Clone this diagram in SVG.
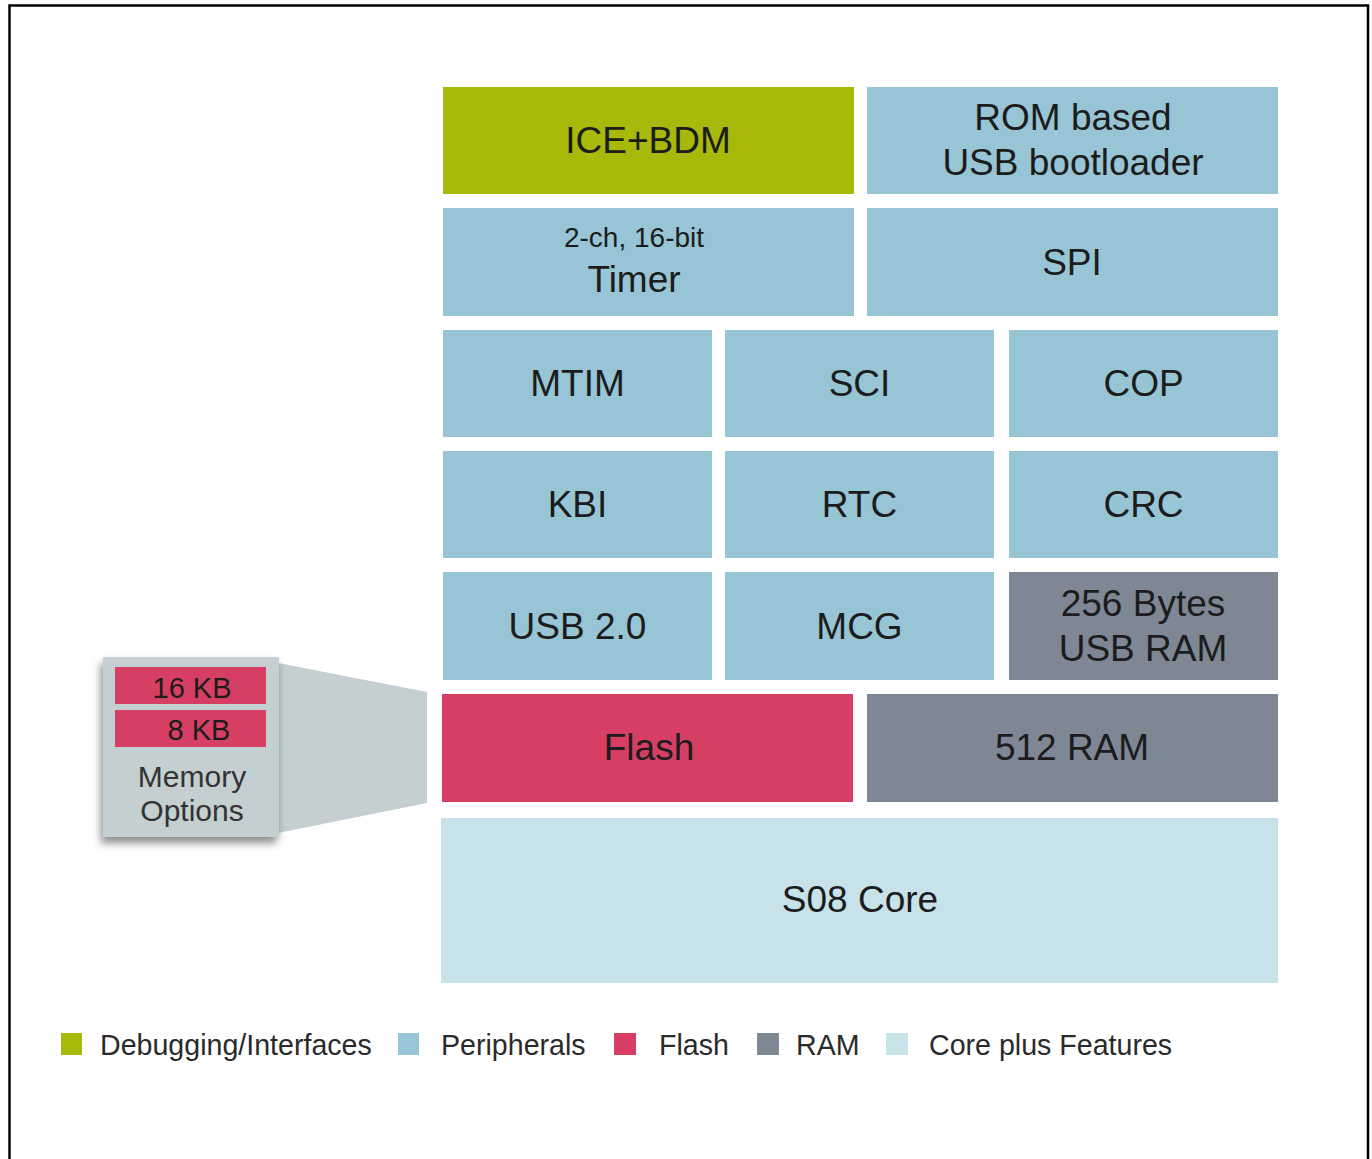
<svg xmlns="http://www.w3.org/2000/svg" width="1372" height="1159" viewBox="0 0 1372 1159">
<defs>
<style>
.t{font-family:"Liberation Sans",Arial,sans-serif;fill:#1c1c1c;text-anchor:middle}
.b{font-size:37px}
.s{font-size:28px}
.m{font-size:29px}
.mo{font-size:30px;fill:#333}
.lg{font-family:"Liberation Sans",Arial,sans-serif;fill:#2a2a2a;font-size:28.6px}
.dbg{fill:#a8b90b}
.per{fill:#97c5d5}
.fl{fill:#d63f63}
.ram{fill:#7d8894}
.core{fill:#c8e2ea}
</style>
<filter id="sh" x="-20%" y="-20%" width="140%" height="140%">
<feDropShadow dx="-2" dy="6" stdDeviation="4" flood-color="#000" flood-opacity="0.45"/>
</filter>
</defs>
<rect width="1372" height="1159" fill="#fff"/>
<g id="frame" fill="none" stroke="#000" stroke-width="2.5">
<polyline points="9.5,1159 9.5,5.5 1368,5.5 1368,1159"/>
</g>
<g id="connectors">
<polygon points="278,663 427,692 427,803 278,833" fill="#c4cfd2"/>
</g>
<g id="memory-options">
<rect x="103" y="657" width="176" height="180" fill="#c4cfd2" filter="url(#sh)"/>
<rect x="115" y="667" width="151" height="37" class="fl"/>
<rect x="115" y="710" width="151" height="37" class="fl"/>
<text x="192" y="698" class="t m">16 KB</text>
<text x="199" y="740" class="t m">8 KB</text>
<text x="192" y="787" class="t mo">Memory</text>
<text x="192" y="821" class="t mo">Options</text>
</g>
<g id="ice-bdm"><rect x="443" y="87" width="411" height="107" class="dbg"/><text x="648" y="153" class="t b">ICE+BDM</text></g>
<g id="rom-bootloader"><rect x="867" y="87" width="411" height="107" class="per"/><text x="1073" y="130" class="t b">ROM based</text><text x="1073" y="175" class="t b">USB bootloader</text></g>
<g id="timer"><rect x="443" y="208" width="411" height="108" class="per"/><text x="634" y="247" class="t s">2-ch, 16-bit</text><text x="634" y="292" class="t b">Timer</text></g>
<g id="spi"><rect x="867" y="208" width="411" height="108" class="per"/><text x="1072" y="275" class="t b">SPI</text></g>
<g id="mtim"><rect x="443" y="330" width="269" height="107" class="per"/><text x="577.5" y="396" class="t b">MTIM</text></g>
<g id="sci"><rect x="725" y="330" width="269" height="107" class="per"/><text x="859.5" y="396" class="t b">SCI</text></g>
<g id="cop"><rect x="1009" y="330" width="269" height="107" class="per"/><text x="1143.5" y="396" class="t b">COP</text></g>
<g id="kbi"><rect x="443" y="451" width="269" height="107" class="per"/><text x="577.5" y="517" class="t b">KBI</text></g>
<g id="rtc"><rect x="725" y="451" width="269" height="107" class="per"/><text x="859.5" y="517" class="t b">RTC</text></g>
<g id="crc"><rect x="1009" y="451" width="269" height="107" class="per"/><text x="1143.5" y="517" class="t b">CRC</text></g>
<g id="usb20"><rect x="443" y="572" width="269" height="108" class="per"/><text x="577.5" y="639" class="t b">USB 2.0</text></g>
<g id="mcg"><rect x="725" y="572" width="269" height="108" class="per"/><text x="859.5" y="639" class="t b">MCG</text></g>
<g id="usb-ram"><rect x="1009" y="572" width="269" height="108" class="ram"/><text x="1143" y="616" class="t b">256 Bytes</text><text x="1143" y="661" class="t b">USB RAM</text></g>
<g id="flash"><rect x="442" y="694" width="411" height="108" class="fl"/><text x="649" y="760" class="t b">Flash</text></g>
<g id="ram512"><rect x="867" y="694" width="411" height="108" class="ram"/><text x="1072" y="760" class="t b">512 RAM</text></g>
<g id="s08-core"><rect x="441" y="818" width="837" height="165" class="core"/><text x="860" y="912" class="t b">S08 Core</text></g>
<g id="legend">
<rect x="61" y="1033" width="21" height="22" class="dbg"/><text x="100" y="1055" class="lg">Debugging/Interfaces</text>
<rect x="398" y="1033" width="21" height="22" class="per"/><text x="441" y="1055" class="lg">Peripherals</text>
<rect x="614" y="1033" width="22" height="22" class="fl"/><text x="659" y="1055" class="lg">Flash</text>
<rect x="757" y="1033" width="22" height="22" class="ram"/><text x="796" y="1055" class="lg">RAM</text>
<rect x="886" y="1033" width="22" height="22" class="core"/><text x="929" y="1055" class="lg">Core plus Features</text>
</g>
</svg>
